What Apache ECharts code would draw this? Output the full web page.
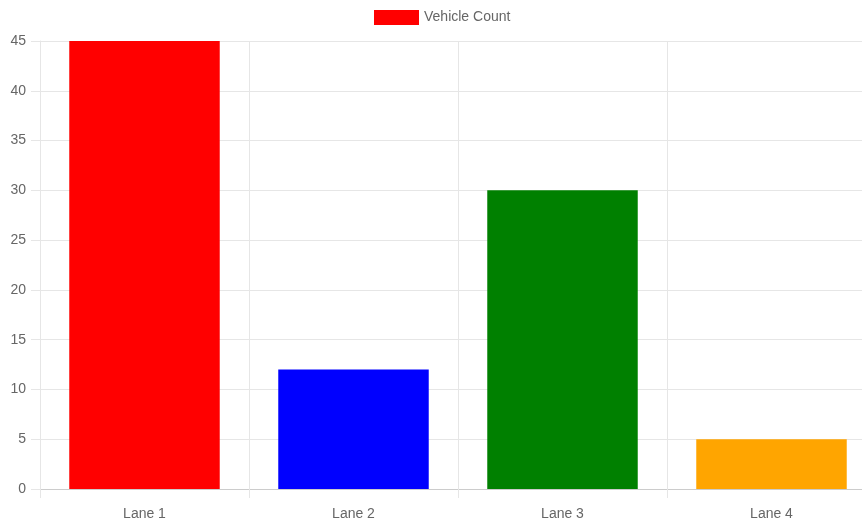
<!DOCTYPE html>
<html style="height: 100%">
<head>
  <meta charset="utf-8">
</head>
<body style="height: 100%; margin: 0; background: #fff; overflow: hidden">
  <div id="container" style="width: 880px; height: 523px"></div>
  <script type="text/javascript" src="https://cdn.jsdelivr.net/npm/echarts@6/dist/echarts.min.js"></script>
  <script type="text/javascript">
var lanes = ['Lane 1', 'Lane 2', 'Lane 3', 'Lane 4'];
var vehicleCounts = [45, 12, 30, 5];
var laneColors = ['#ff0000', '#0000ff', '#008000', '#ffa500'];

// the reference is cropped on the right, so the canvas is a bit wider than the window
var myChart = echarts.init(document.getElementById('container'));
var gridColor = '#e6e6e6';
var textColor = '#666';
var font = 'Liberation Sans, Arial, Helvetica, sans-serif';

var option = {
  backgroundColor: '#fff',
  animation: false,
  legend: {
    data: ['Vehicle Count'],
    left: 369,
    top: 5,
    icon: 'rect',
    itemWidth: 45,
    itemHeight: 15,
    itemGap: 8,
    textStyle: { color: textColor, fontSize: 14, fontFamily: font }
  },
  grid: { left: 40, top: 41, width: 836, height: 448 },
  xAxis: {
    type: 'category',
    data: lanes,
    axisLine: { lineStyle: { color: '#cccccc' } },
    axisTick: { show: true, length: 9, lineStyle: { color: gridColor } },
    splitLine: { show: true, lineStyle: { color: gridColor } },
    axisLabel: { color: textColor, fontSize: 14, fontFamily: font, margin: 18 }
  },
  yAxis: {
    type: 'value',
    min: 0,
    max: 45,
    interval: 5,
    axisLine: { show: true, lineStyle: { color: gridColor } },
    axisTick: { show: true, length: 9, lineStyle: { color: gridColor } },
    splitLine: { show: true, lineStyle: { color: gridColor } },
    axisLabel: { color: textColor, fontSize: 14, fontFamily: font, margin: 14 }
  },
  series: [{
    name: 'Vehicle Count',
    type: 'bar',
    barWidth: '72%',
    itemStyle: { color: laneColors[0] },
    data: vehicleCounts.map(function (v, i) {
      return { value: v, itemStyle: { color: laneColors[i] } };
    })
  }]
};

myChart.setOption(option);
  </script>
</body>
</html>
